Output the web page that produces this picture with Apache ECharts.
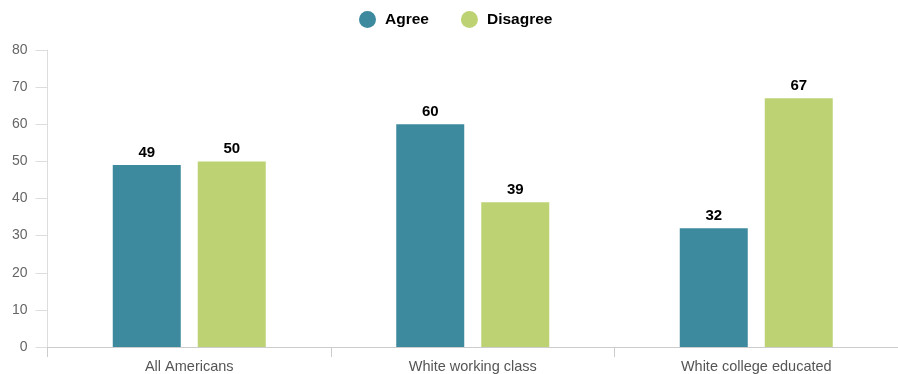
<!DOCTYPE html>
<html>
<head>
<meta charset="utf-8">
<script src="https://cdn.jsdelivr.net/npm/echarts@6/dist/echarts.min.js"></script>
<style>
  html, body { margin: 0; padding: 0; background: #fff; }
  #chart { width: 898px; height: 374px; }
</style>
</head>
<body>
<div id="chart"></div>
<script>
// Survey groups and response shares (%)
const categories = ['All Americans', 'White working class', 'White college educated'];
const agree = [49, 60, 32];
const disagree = [50, 39, 67];
const yTicks = [0, 10, 20, 30, 40, 50, 60, 70, 80];

const chart = echarts.init(document.getElementById('chart'));

const valueLabel = {
  show: true,
  position: 'top',
  distance: 5,
  color: '#000',
  fontWeight: 'bold',
  fontSize: 15,
  fontFamily: 'Liberation Sans, Arial, sans-serif'
};

chart.setOption({
  animation: false,
  textStyle: { fontFamily: 'Liberation Sans, Arial, sans-serif' },
  legend: {
    top: 6,
    left: 354,
    icon: 'circle',
    itemWidth: 17,
    itemHeight: 17,
    itemGap: 32,
    textStyle: { fontSize: 15.5, fontWeight: 'bold', color: '#000', padding: [0, 0, 0, 4] },
    data: ['Agree', 'Disagree']
  },
  grid: { left: 47.5, right: -0.5, top: 50, bottom: 26, containLabel: false },
  xAxis: {
    type: 'category',
    data: categories,
    axisLine: { lineStyle: { color: '#cccccc' } },
    axisTick: { show: true, length: 10, lineStyle: { color: '#cccccc' } },
    axisLabel: { color: '#555', fontSize: 14.5, margin: 12 }
  },
  yAxis: {
    type: 'value',
    min: yTicks[0],
    max: yTicks[yTicks.length - 1],
    interval: 10,
    axisLine: { show: true, lineStyle: { color: '#dddddd' } },
    axisTick: { show: true, length: 12, lineStyle: { color: '#dddddd' } },
    axisLabel: { color: '#666', fontSize: 14, margin: 20 },
    splitLine: { show: false }
  },
  series: [
    {
      name: 'Agree',
      type: 'bar',
      data: agree,
      barWidth: 68,
      barGap: '25%',
      itemStyle: { color: '#3d8a9e' },
      label: valueLabel
    },
    {
      name: 'Disagree',
      type: 'bar',
      data: disagree,
      barWidth: 68,
      itemStyle: { color: '#bdd373' },
      label: valueLabel
    }
  ]
});
</script>
</body>
</html>
